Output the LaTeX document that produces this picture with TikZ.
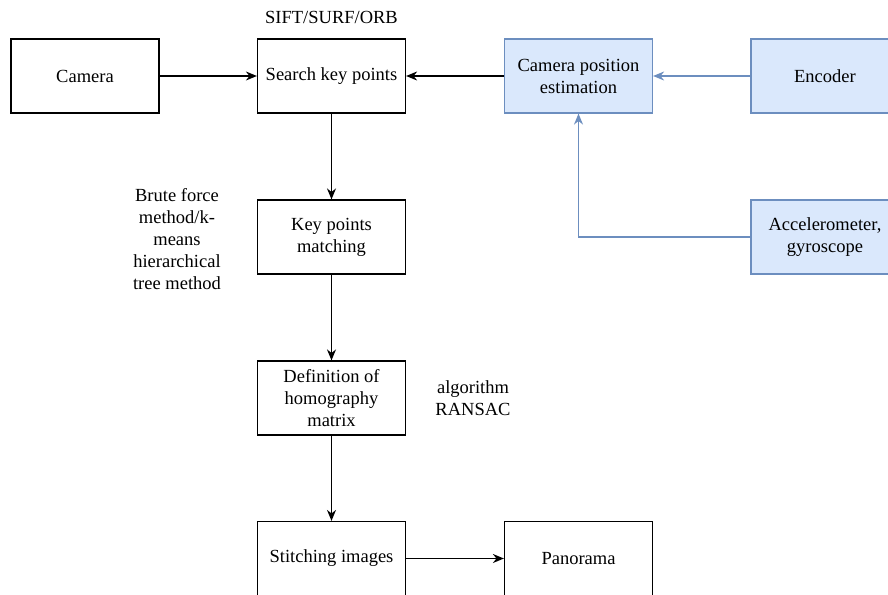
\documentclass[tikz,border=0pt]{standalone}
\usepackage{fontspec}
\setmainfont{Liberation Serif}
\newfontfamily\tnr{Liberation Serif}
\usetikzlibrary{arrows.meta}
\definecolor{bfill}{HTML}{DAE8FC}
\definecolor{bdraw}{HTML}{6C8EBF}
\begin{document}
\begin{tikzpicture}[x=1pt,y=-1pt,
 txt/.style={font=\tnr\fontsize{18.5}{22}\selectfont},
 box/.style={txt, draw=black, line width=1.2pt, minimum width=148pt, minimum height=74pt, align=center, inner sep=0pt},
 bluebox/.style={box, draw=bdraw, fill=bfill},
 lbl/.style={txt, align=center, inner sep=0pt},
 arr/.style={-{Stealth[length=11pt,width=9pt]}, line width=1.5pt},
 barr/.style={arr, draw=bdraw, line width=1.3pt}]
\useasboundingbox (0,0) rectangle (888,594);
\clip (0,0) rectangle (888,594);
\fill[white] (0,0) rectangle (888,594);
\node[box] (cam) at (85,76) {Camera};
\node[box] (skp) at (331.5,76) {Search key points};
\node[bluebox] (cpe) at (578.5,76) {Camera position\\estimation};
\node[bluebox] (enc) at (825,76) {Encoder};
\node[bluebox] (acc) at (825,237) {Accelerometer,\\gyroscope};
\node[box] (kpm) at (331.5,237) {Key points\\matching};
\node[box] (dhm) at (331.5,398) {Definition of\\homography\\matrix};
\node[box] (sti) at (331.5,558.5) {Stitching images};
\node[box] (pan) at (578.5,558.5) {Panorama};
\node[lbl] (sift) at (331.5,17) {SIFT/SURF/ORB};
\node[lbl] (brute) at (177,239) {Brute force\\method/k-\\means\\hierarchical\\tree method};
\node[lbl] (rans) at (473,398) {algorithm\\RANSAC};
\draw[arr] (cam) -- (skp);
\draw[arr] (cpe) -- (skp);
\draw[barr] (enc) -- (cpe);
\draw[barr] (acc.west) -| (cpe.south);
\draw[arr] (skp) -- (kpm);
\draw[arr] (kpm) -- (dhm);
\draw[arr] (dhm) -- (sti);
\draw[arr] (sti) -- (pan);
\end{tikzpicture}
\end{document}
